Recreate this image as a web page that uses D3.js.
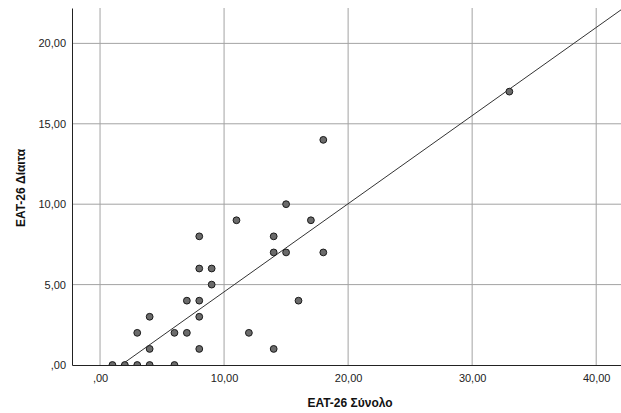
<!DOCTYPE html>
<html lang="el">
<head>
<meta charset="UTF-8">
<title>EAT-26 Σύνολο / Δίαιτα</title>
<script src="https://d3js.org/d3.v7.min.js"></script>
<style>
    body { margin: 0; background: #fff; font-family: Arial, "Liberation Sans", sans-serif; }
    .tick text { font-size: 11px; fill: #222; }
    .label { font-size: 12px; font-weight: bold; fill: #111; }
</style>
</head>
<body>
<svg id="chart"></svg>
<script>
    // EAT-26 Σύνολο (x) and EAT-26 Δίαιτα (y)
    const total = [33, 18, 15, 11, 17, 8, 14, 14, 15, 18, 8, 9, 9, 7, 8, 16, 4, 8, 3, 6, 7, 12, 4, 8, 14, 1, 2, 3, 4, 6];
    const diet  = [17, 14, 10, 9, 9, 8, 8, 7, 7, 7, 6, 6, 5, 4, 4, 4, 3, 3, 2, 2, 2, 2, 1, 1, 1, 0, 0, 0, 0, 0];
    const xTicks = [0, 10, 20, 30, 40];
    const yTicks = [0, 5, 10, 15, 20];
    // fit line
    const fitSlope = 0.548;
    const fitIntercept = -0.932;

    const width = 621, height = 413;
    const margin = { top: 8, right: 0, bottom: 48, left: 72 };

    const svg = d3.select("#chart").attr("width", width).attr("height", height);

    const x = d3.scaleLinear().domain([-2.26, 42]).range([margin.left, width - margin.right]);
    const y = d3.scaleLinear().domain([0, 22.2]).range([height - margin.bottom, margin.top]);

    const fmt = d => d === 0 ? ",00" : d3.format(".2f")(d).replace(".", ",");

    svg.append("defs").append("clipPath").attr("id", "plot")
        .append("rect")
        .attr("x", margin.left).attr("y", margin.top)
        .attr("width", width - margin.left - margin.right)
        .attr("height", height - margin.bottom - margin.top);

    // grid
    svg.append("g").selectAll("line").data(xTicks).join("line")
        .attr("x1", d => x(d)).attr("x2", d => x(d))
        .attr("y1", y.range()[1]).attr("y2", y.range()[0])
        .attr("stroke", "#a3a3a3");
    svg.append("g").selectAll("line").data(yTicks.filter(d => d > 0)).join("line")
        .attr("x1", x.range()[0]).attr("x2", x.range()[1])
        .attr("y1", d => y(d)).attr("y2", d => y(d))
        .attr("stroke", "#a3a3a3");

    // axes
    const xAxis = svg.append("g")
        .attr("transform", `translate(0,${height - margin.bottom})`)
        .call(d3.axisBottom(x).tickValues(xTicks).tickFormat(fmt).tickSize(0).tickPadding(9));
    xAxis.select(".domain").attr("stroke", "#222");

    const yAxis = svg.append("g")
        .attr("transform", `translate(${margin.left},0)`)
        .call(d3.axisLeft(y).tickValues(yTicks).tickFormat(fmt).tickSize(0).tickPadding(6));
    yAxis.select(".domain").attr("stroke", "#222");
    svg.selectAll(".tick text").attr("font-family", "Arial, 'Liberation Sans', sans-serif");

    // fit line
    const fx = [-3, 43];
    svg.append("line")
        .attr("clip-path", "url(#plot)")
        .attr("x1", x(fx[0])).attr("y1", y(fitIntercept + fitSlope * fx[0]))
        .attr("x2", x(fx[1])).attr("y2", y(fitIntercept + fitSlope * fx[1]))
        .attr("stroke", "#333").attr("stroke-width", 1);

    // points
    svg.append("g").attr("clip-path", "url(#plot)")
        .selectAll("circle").data(total.map((t, i) => [t, diet[i]])).join("circle")
        .attr("cx", d => x(d[0])).attr("cy", d => y(d[1]))
        .attr("r", 3.4)
        .attr("fill", "#6b6b6b").attr("stroke", "#1a1a1a").attr("stroke-width", 1);

    // labels
    svg.append("text").attr("class", "label")
        .attr("x", 350).attr("y", 407)
        .attr("text-anchor", "middle")
        .text("EAT-26 Σύνολο");
    svg.append("text").attr("class", "label")
        .attr("transform", "translate(25,188) rotate(-90)")
        .attr("text-anchor", "middle")
        .text("EAT-26 Δίαιτα");
</script>
</body>
</html>
